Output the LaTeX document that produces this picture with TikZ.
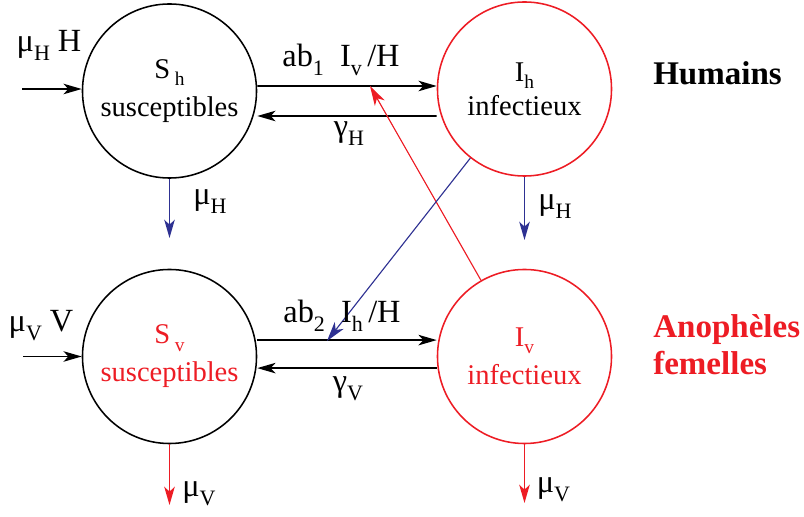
\documentclass[tikz,border=0pt]{standalone}
\usepackage{fontspec}
\setmainfont{Liberation Serif}
\usetikzlibrary{arrows.meta}

\definecolor{malred}{RGB}{237,28,36}
\definecolor{malblue}{RGB}{46,49,146}

% lowered index in text font, scaled from the current size
\makeatletter
\newcommand{\dn}[1]{\raisebox{-0.25em}{\fontsize{\fpeval{0.68*\f@size}}{1}\selectfont #1}}
\makeatother

\tikzset{
  compart/.style={draw, circle, line width=1.1pt, minimum size=4.35cm, inner sep=0pt, align=center},
  flow/.style={-{Stealth[length=13pt,width=7.5pt,inset=3.5pt]}, line width=1.1pt},
  thinflow/.style={-{Stealth[length=13pt,width=7.5pt,inset=3.5pt]}, line width=1pt},
  crossflow/.style={-{Stealth[length=14pt,width=8pt,inset=4pt]}, line width=0.8pt},
  lbl/.style={anchor=base, inner sep=0pt, font=\fontsize{23}{27}\selectfont},
  grouplbl/.style={inner sep=0pt, font=\fontsize{23.5}{27}\selectfont\bfseries},
}

\begin{document}
\fontsize{20.3}{27}\selectfont
\begin{tikzpicture}[x=0.025cm, y=-0.025cm]
\useasboundingbox (0,0) rectangle (804,517);

% compartments
\node[compart] (sh) at (169.5,91) {S\,\dn{h}\\susceptibles};
\node[compart, draw=malred] (ih) at (524.5,89) {I\dn{h}\\[-3pt]infectieux};
\node[compart, text=malred] (sv) at (169.5,356.5) {S\,\dn{v}\\susceptibles};
\node[compart, draw=malred, text=malred] (iv) at (524.5,356.5) {I\dn{v}\\infectieux};

% humans
\coordinate (inh) at (22,89);
\coordinate (outsh) at (169.5,238);
\coordinate (outih) at (524.5,240);
\draw[flow] (inh) -- (inh -| sh.west);
\draw[flow] ([yshift=0.125cm]sh.east) -- ([yshift=0.075cm]ih.west);
\draw[flow] ([yshift=-0.675cm]ih.west) -- ([yshift=-0.625cm]sh.east);
\draw[thinflow, malblue] (sh.south) -- (outsh);
\draw[thinflow, malblue] (ih.south) -- (outih);

% mosquitoes
\coordinate (inv) at (23,356.5);
\coordinate (outsv) at (169.5,505);
\coordinate (outiv) at (524.5,503);
\draw[flow] (inv) -- (sv.west);
\draw[flow] ([yshift=0.41cm]sv.east) -- ([yshift=0.41cm]iv.west);
\draw[flow] ([yshift=-0.29cm]iv.west) -- ([yshift=-0.29cm]sv.east);
\draw[thinflow, malred] (sv.south) -- (outsv);
\draw[thinflow, malred] (iv.south) -- (outiv);

% cross infection
\coordinate (hitv) at (370,86);
\coordinate (hith) at (327,341);
\draw[crossflow, malred] (iv) -- (hitv);
\draw[crossflow, malblue] (ih) -- (hith);

% rates
\node[lbl] (inhlbl) at (49,52) {μ\dn{H} H};
\node[lbl] (inflh) at (341,67) {ab\dn{1}\ \ I\dn{v}\,/H};
\node[lbl] (recovh) at (349,137) {γ\dn{H}};
\node[lbl] (deathsh) at (210,205) {μ\dn{H}};
\node[lbl] (deathih) at (555,210) {μ\dn{H}};

\node[lbl] (invlbl) at (41,332) {μ\dn{V} V};
\node[lbl] (inflv) at (342,323) {ab\dn{2}\ \ I\dn{h}\,/H};
\node[lbl] (recovv) at (348,392) {γ\dn{V}};
\node[lbl] (deathsv) at (199,497) {μ\dn{V}};
\node[lbl] (deathiv) at (553.5,493) {μ\dn{V}};

% groups
\node[grouplbl, anchor=base west] (humans) at (653,85) {Humains};
\node[grouplbl, anchor=base west, align=left, text=malred] (mosq) at (653,375) {Anophèles\\femelles};
\end{tikzpicture}
\end{document}
